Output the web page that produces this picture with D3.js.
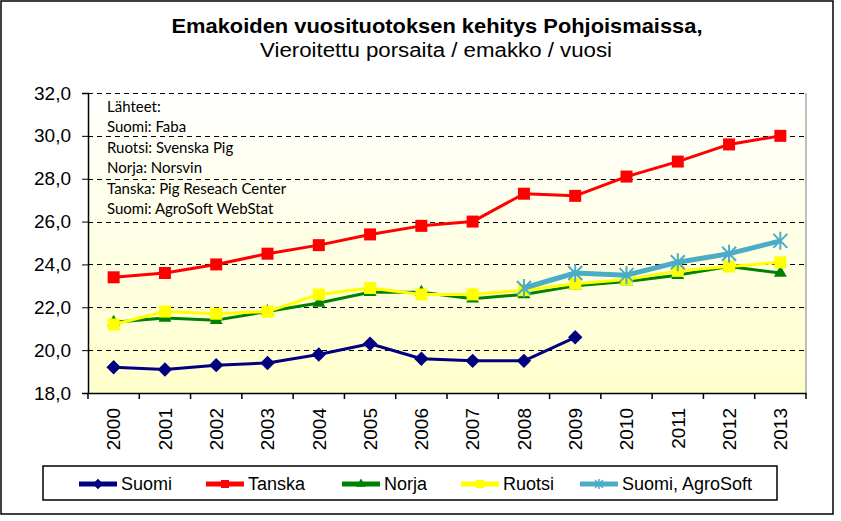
<!DOCTYPE html>
<html>
<head>
<meta charset="utf-8">
<script src="https://cdn.jsdelivr.net/npm/d3@7"></script>
<style>
  html, body { margin: 0; padding: 0; background: #fff; }
  svg text { font-family: "Liberation Sans", Arial, sans-serif; }
</style>
</head>
<body>
<div id="chart"></div>
<script>
// data
const years = ['2000', '2001', '2002', '2003', '2004', '2005', '2006',
  '2007', '2008', '2009', '2010', '2011', '2012', '2013'];
const suomi = [19.2, 19.1, 19.3, 19.4, 19.8, 20.3, 19.6, 19.5, 19.5, 20.6,
  null, null, null, null];
const tanska = [23.4, 23.6, 24.0, 24.5, 24.9, 25.4, 25.8, 26.0, 27.3, 27.2,
  28.1, 28.8, 29.6, 30.0];
const norja = [21.3, 21.5, 21.4, 21.8, 22.2, 22.7, 22.7, 22.4, 22.6, 23.0,
  23.2, 23.5, 23.9, 23.6];
const ruotsi = [21.2, 21.8, 21.7, 21.8, 22.6, 22.9, 22.6, 22.6, 22.8, 23.1,
  23.3, 23.7, 23.9, 24.1];
const agrosoft = [null, null, null, null, null, null, null, null, 22.9, 23.6,
  23.5, 24.1, 24.5, 25.1];
const yTicks = [18, 20, 22, 24, 26, 28, 30, 32];
const sources = ['Lähteet:', 'Suomi: Faba', 'Ruotsi: Svenska Pig', 'Norja: Norsvin',
  'Tanska: Pig Reseach Center', 'Suomi: AgroSoft WebStat'];

const series = [
  {name: 'Suomi', values: suomi, color: '#000080', width: 3, marker: 'diamond'},
  {name: 'Tanska', values: tanska, color: '#ff0000', width: 3, marker: 'square'},
  {name: 'Norja', values: norja, color: '#008000', width: 3, marker: 'triangle'},
  {name: 'Ruotsi', values: ruotsi, color: '#ffff00', width: 3, marker: 'square'},
  {name: 'Suomi, AgroSoft', values: agrosoft, color: '#4bacc6', width: 5, marker: 'star'}
];

const width = 841, height = 521,
  plot = {left: 88, right: 806, top: 93, bottom: 393};

const svg = d3.select('#chart').append('svg')
  .attr('width', width)
  .attr('height', height);

// outer frame
svg.append('rect')
  .attr('x', 1).attr('y', 1)
  .attr('width', 832).attr('height', 513)
  .attr('fill', '#fff')
  .attr('stroke', '#000')
  .attr('stroke-width', 1.5);

const defs = svg.append('defs');
const grad = defs.append('linearGradient')
  .attr('id', 'plotBg')
  .attr('x1', 0).attr('y1', 0).attr('x2', 0).attr('y2', 1);
grad.append('stop').attr('offset', '0%').attr('stop-color', '#ffffff');
grad.append('stop').attr('offset', '100%').attr('stop-color', '#ffffcc');

const x = d3.scaleBand().domain(years).range([plot.left, plot.right]);
const y = d3.scaleLinear().domain([18, 32]).range([plot.bottom, plot.top]);
const cx = d => x(d) + x.bandwidth() / 2;

// plot area
svg.append('rect')
  .attr('x', plot.left).attr('y', plot.top)
  .attr('width', plot.right - plot.left)
  .attr('height', plot.bottom - plot.top)
  .attr('fill', 'url(#plotBg)');
svg.append('line')
  .attr('x1', plot.right).attr('x2', plot.right)
  .attr('y1', plot.top).attr('y2', plot.bottom)
  .attr('stroke', '#808080').attr('stroke-width', 1);

// dashed gridlines
svg.append('g')
  .selectAll('line')
  .data(yTicks.filter(t => t > 18))
  .enter().append('line')
  .attr('x1', plot.left).attr('x2', plot.right)
  .attr('y1', d => Math.round(y(d)) + 0.5)
  .attr('y2', d => Math.round(y(d)) + 0.5)
  .attr('stroke', '#000')
  .attr('stroke-dasharray', '5 4');

// y axis
const yAxis = svg.append('g')
  .attr('transform', 'translate(' + plot.left + ',0)')
  .call(d3.axisLeft(y).tickValues(yTicks).tickSize(6).tickPadding(11)
    .tickFormat(d => d3.format('.1f')(d).replace('.', ',')));
yAxis.select('.domain').attr('stroke-width', 1.5);
yAxis.selectAll('text')
  .attr('font-size', 19)
  .attr('fill', '#000')
  .style('font-family', '"Liberation Sans", Arial, sans-serif');

// x axis: ticks sit between the years
const xAxis = svg.append('g')
  .attr('transform', 'translate(0,' + plot.bottom + ')')
  .call(d3.axisBottom(x).tickSize(0).tickPadding(0));
xAxis.select('.domain').attr('stroke-width', 1.5);
xAxis.selectAll('.tick text')
  .attr('font-size', 19)
  .attr('fill', '#000')
  .attr('text-anchor', 'end')
  .attr('y', 0)
  .attr('dy', '0.36em')
  .attr('transform', 'translate(0,15) rotate(-90)')
  .style('font-family', '"Liberation Sans", Arial, sans-serif');
xAxis.selectAll('.bound')
  .data(years.map(d => x(d)).concat([plot.right]))
  .enter().append('line')
  .attr('class', 'bound')
  .attr('x1', d => d).attr('x2', d => d)
  .attr('y1', 0).attr('y2', 6)
  .attr('stroke', '#000').attr('stroke-width', 1.5);

// marker shapes
const markerPath = (type, s) => {
  if (type === 'diamond') return d3.symbol(d3.symbolDiamond2, s * s * 1.1)();
  if (type === 'square') return d3.symbol(d3.symbolSquare, s * s)();
  if (type === 'triangle') return d3.symbol(d3.symbolTriangle, s * s * 0.6)();
  return d3.symbol(d3.symbolTimes, s * s * 0.6)();
};

const line = d3.line()
  .defined(d => d.v != null)
  .x(d => cx(d.year))
  .y(d => y(d.v));

series.forEach(s => {
  const pts = years.map((yr, i) => ({year: yr, v: s.values[i]}));
  const g = svg.append('g').attr('class', 'series');
  g.append('path')
    .datum(pts)
    .attr('d', line)
    .attr('fill', 'none')
    .attr('stroke', s.color)
    .attr('stroke-width', s.width)
    .attr('stroke-linejoin', 'round');
  const pts2 = pts.filter(d => d.v != null);
  if (s.marker === 'star') {
    const mk = g.selectAll('.mk').data(pts2).enter().append('g')
      .attr('transform', d => 'translate(' + cx(d.year) + ',' + y(d.v) + ')');
    mk.append('path')
      .attr('d', 'M-7,-7L7,7M-7,7L7,-7M0,-9L0,9')
      .attr('stroke', s.color).attr('stroke-width', 2).attr('fill', 'none');
  } else {
    g.selectAll('.mk').data(pts2).enter().append('path')
      .attr('transform', d => 'translate(' + cx(d.year) + ',' + y(d.v) + ')')
      .attr('d', markerPath(s.marker, s.marker === 'square' ? 12 : 11))
      .attr('fill', s.color);
  }
});

// sources note
svg.append('g')
  .selectAll('text')
  .data(sources)
  .enter().append('text')
  .attr('x', 107)
  .attr('y', (d, i) => 112 + i * 20.4)
  .attr('font-size', 15)
  .style('font-family', 'Lato, "Open Sans", sans-serif')
  .attr('fill', '#000')
  .text(d => d);

// titles
svg.append('text')
  .attr('x', 437).attr('y', 33)
  .attr('text-anchor', 'middle')
  .attr('font-size', 21)
  .attr('font-weight', 'bold')
  .attr('textLength', 531)
  .attr('lengthAdjust', 'spacingAndGlyphs')
  .text('Emakoiden vuosituotoksen kehitys Pohjoismaissa,');
svg.append('text')
  .attr('x', 436).attr('y', 57)
  .attr('text-anchor', 'middle')
  .attr('font-size', 20)
  .attr('textLength', 352)
  .attr('lengthAdjust', 'spacingAndGlyphs')
  .text('Vieroitettu porsaita / emakko / vuosi');

// legend
const legend = svg.append('g');
legend.append('rect')
  .attr('x', 43).attr('y', 466)
  .attr('width', 734).attr('height', 34)
  .attr('fill', '#fff').attr('stroke', '#000').attr('stroke-width', 1.5);
const legendX = [79, 206, 342, 461, 580];
series.forEach((s, i) => {
  const g = legend.append('g')
    .attr('transform', 'translate(' + legendX[i] + ',484)');
  g.append('line')
    .attr('x1', 0).attr('x2', 38)
    .attr('stroke', s.color).attr('stroke-width', 5);
  if (s.marker === 'star') {
    g.append('path')
      .attr('transform', 'translate(19,0)')
      .attr('d', 'M-4,-4L4,4M-4,4L4,-4M0,-5L0,5')
      .attr('stroke', s.color).attr('stroke-width', 1.5);
  } else {
    g.append('path')
      .attr('transform', 'translate(19,0)')
      .attr('d', markerPath(s.marker, 8))
      .attr('fill', s.color);
  }
  g.append('text')
    .attr('x', 42).attr('y', 0)
    .attr('dy', '0.36em')
    .attr('font-size', 18)
    .text(s.name);
});
</script>
</body>
</html>
